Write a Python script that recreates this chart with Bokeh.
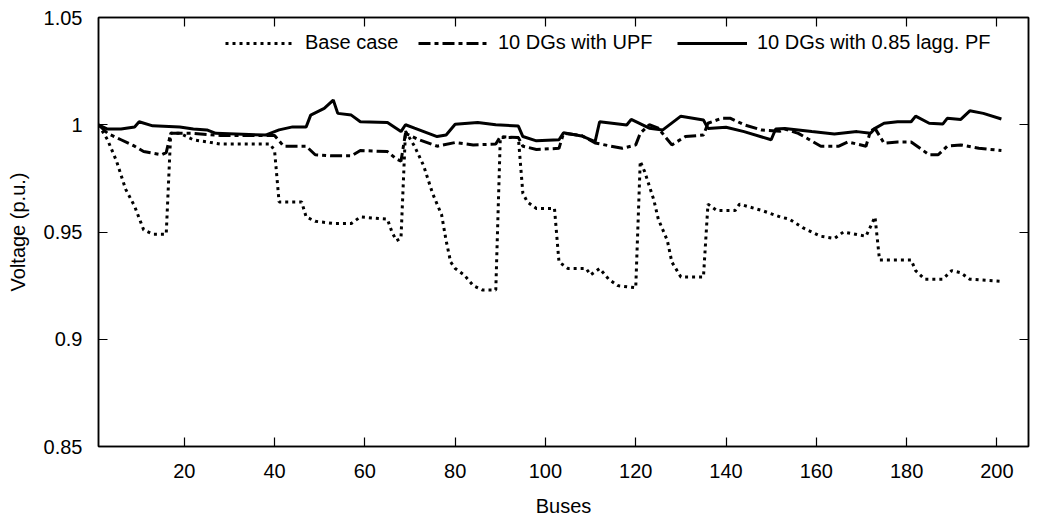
from bokeh.plotting import figure
from bokeh.models import Range1d, FixedTicker, LinearAxis, Legend, LegendItem, CustomJSTickFormatter
from bokeh.embed import file_html
from bokeh.resources import INLINE

# ---- data ----
bus_base = [1, 3, 5, 7, 9, 11, 13, 16, 17, 19, 22, 28, 39, 40, 41, 46, 47, 49, 53, 57, 59, 65, 66, 67, 68,
            69, 71, 73, 75, 77, 78, 79, 80, 82, 84, 86, 89, 90, 94, 95, 96, 98, 102, 103, 105, 109, 110,
            112, 114, 116, 120, 121, 122, 124, 125, 127, 128, 130, 135, 136, 138, 142, 143, 148, 152,
            154, 157, 161, 164, 166, 171, 173, 174, 176, 181, 182, 184, 188, 190, 192, 194, 201]
v_base = [1.000, 0.993, 0.983, 0.970, 0.962, 0.951, 0.949, 0.949, 0.996, 0.996, 0.993, 0.991, 0.991, 0.988,
          0.964, 0.964, 0.957, 0.955, 0.954, 0.954, 0.957, 0.956, 0.950, 0.946, 0.947,
          0.997, 0.990, 0.981, 0.968, 0.958, 0.946, 0.936, 0.933, 0.930, 0.925, 0.923, 0.923, 0.994, 0.994,
          0.968, 0.964, 0.961, 0.961, 0.936, 0.933, 0.933, 0.930,
          0.933, 0.928, 0.925, 0.924, 0.983, 0.978, 0.965, 0.956, 0.946, 0.936, 0.929, 0.929, 0.963, 0.960,
          0.960, 0.963, 0.960, 0.957,
          0.956, 0.952, 0.948, 0.947, 0.950, 0.948, 0.957, 0.937, 0.937, 0.937, 0.932, 0.928, 0.928, 0.932,
          0.931, 0.928, 0.927]

bus_upf = [1, 3, 6, 9, 11, 15, 16, 17, 22, 28, 40, 42, 47, 49, 53, 57, 59, 65, 67, 68, 69, 72, 76, 80, 84,
           89, 90, 94, 95, 98, 103, 104, 108, 111, 117, 120, 121, 123, 125, 128, 131, 135, 136, 139, 141,
           144, 148, 152, 153, 156, 161, 165, 167, 171, 172, 173, 175, 178, 181, 185, 187, 189, 192, 196, 201]
v_upf = [1.000, 0.996, 0.993, 0.990, 0.9875, 0.986, 0.987, 0.996, 0.996, 0.995, 0.995, 0.990, 0.990, 0.986,
         0.9855, 0.9855, 0.988, 0.9875, 0.984, 0.983, 0.996, 0.993, 0.990, 0.9917, 0.9906,
         0.991, 0.9945, 0.994, 0.990, 0.9885, 0.989, 0.996, 0.995, 0.9915, 0.989, 0.9906, 0.996, 1.000,
         0.9984, 0.9906, 0.9945, 0.9952, 1.0007, 1.003, 1.003,
         1.000, 0.9975, 0.997, 0.998, 0.996, 0.990, 0.990, 0.992, 0.990, 0.997, 0.9983, 0.9914, 0.992,
         0.992, 0.986, 0.986, 0.990, 0.9906, 0.989, 0.988]

bus_pf = [1, 3, 6, 9, 10, 13, 19, 22, 25, 27, 38, 41, 44, 47, 48, 51, 53, 54, 57, 59, 65, 68, 69, 71, 76,
          78, 80, 85, 89, 94, 95, 98, 103, 104, 108, 111, 112, 118, 119, 123, 126, 130, 135, 136, 140,
          144, 150, 151, 153, 159, 164, 169, 172, 173, 175, 178, 181, 182, 185, 188, 189, 192, 194, 197, 201]
v_pf = [1.000, 0.998, 0.998, 0.999, 1.0014, 0.9995, 0.999, 0.998, 0.9976, 0.996, 0.9952, 0.9976, 0.999,
        0.999, 1.0045, 1.0076, 1.0115, 1.0053, 1.0045, 1.0014, 1.001, 0.9968, 1.000, 0.9984, 0.9945,
        0.9952, 1.0002, 1.0011, 1.000, 0.9994, 0.9945, 0.9925, 0.993, 0.9963, 0.9948, 0.9921, 1.0014,
        0.9999, 1.0025, 0.9984, 0.9976, 1.004, 1.0022, 0.9983, 0.9988,
        0.9968, 0.993, 0.998, 0.9983, 0.9968, 0.9957, 0.9968, 0.996, 0.9983, 1.0007, 1.0014, 1.0014,
        1.004, 1.0007, 1.0003, 1.003, 1.0025, 1.0065, 1.0053, 1.0027]

x_ticks = [20, 40, 60, 80, 100, 120, 140, 160, 180, 200]
y_ticks = [0.85, 0.9, 0.95, 1.0, 1.05]
labels = ["Base case", "10 DGs with UPF", "10 DGs with 0.85 lagg. PF"]

FONT = "Liberation Sans"
FS = "20px"

p = figure(width=1039, height=521, x_range=Range1d(1, 207), y_range=Range1d(0.85, 1.05),
           output_backend="svg", toolbar_location=None,
           min_border_left=98, min_border_right=11, min_border_top=17, min_border_bottom=75)
p.grid.visible = False
p.background_fill_color = "white"
p.border_fill_color = "white"
p.outline_line_color = "black"
p.outline_line_width = 1.5
p.outline_line_alpha = 1

fmt = CustomJSTickFormatter(code="return tick.toFixed(2).replace(/0+$/,'').replace(/\\.$/,'');")

def style_axis(ax, show_labels=True):
    ax.axis_line_color = "black"
    ax.axis_line_width = 1.5
    ax.major_tick_in = 9
    ax.major_tick_out = 0
    ax.minor_tick_line_color = None
    ax.major_tick_line_color = "black"
    ax.major_tick_line_width = 1.2
    ax.major_label_text_font = FONT
    if show_labels:
        ax.major_label_text_font_size = FS
        ax.major_label_text_color = "black"
    else:
        ax.major_label_text_font_size = "2px"
        ax.major_label_text_color = None
        ax.major_label_standoff = 0

xa = p.xaxis[0]
xa.ticker = FixedTicker(ticks=x_ticks)
style_axis(xa)
xa.major_label_standoff = 17
xa.axis_label = "Buses"
xa.axis_label_text_font = FONT
xa.axis_label_text_font_size = FS
xa.axis_label_text_font_style = "normal"
xa.axis_label_text_color = "black"
xa.axis_label_standoff = 14

ya = p.yaxis[0]
ya.ticker = FixedTicker(ticks=y_ticks)
ya.formatter = fmt
style_axis(ya)
ya.major_label_standoff = 16
ya.axis_label = "Voltage (p.u.)"
ya.axis_label_text_font = FONT
ya.axis_label_text_font_size = FS
ya.axis_label_text_font_style = "normal"
ya.axis_label_text_color = "black"
ya.axis_label_standoff = 12

top = LinearAxis(ticker=FixedTicker(ticks=x_ticks))
style_axis(top, show_labels=False)
p.add_layout(top, "above")
right = LinearAxis(ticker=FixedTicker(ticks=y_ticks))
style_axis(right, show_labels=False)
p.add_layout(right, "right")

r1 = p.line(bus_base, v_base, line_color="black", line_width=3, line_dash="3 4")
r2 = p.line(bus_upf, v_upf, line_color="black", line_width=3, line_dash="12 4 4 4")
r3 = p.line(bus_pf, v_pf, line_color="black", line_width=3)

for lab, r, xoff in zip(labels, [r1, r2, r3], [127, 320, 579]):
    leg = Legend(items=[LegendItem(label=lab, renderers=[r])], location=(xoff, 392),
                 orientation="horizontal", border_line_color=None, background_fill_alpha=0,
                 padding=0, margin=0, glyph_width=70, glyph_height=20, label_standoff=10,
                 label_text_font=FONT, label_text_font_size=FS, label_text_color="black")
    p.add_layout(leg, "center")

open("out.html", "w").write(file_html(p, INLINE))
